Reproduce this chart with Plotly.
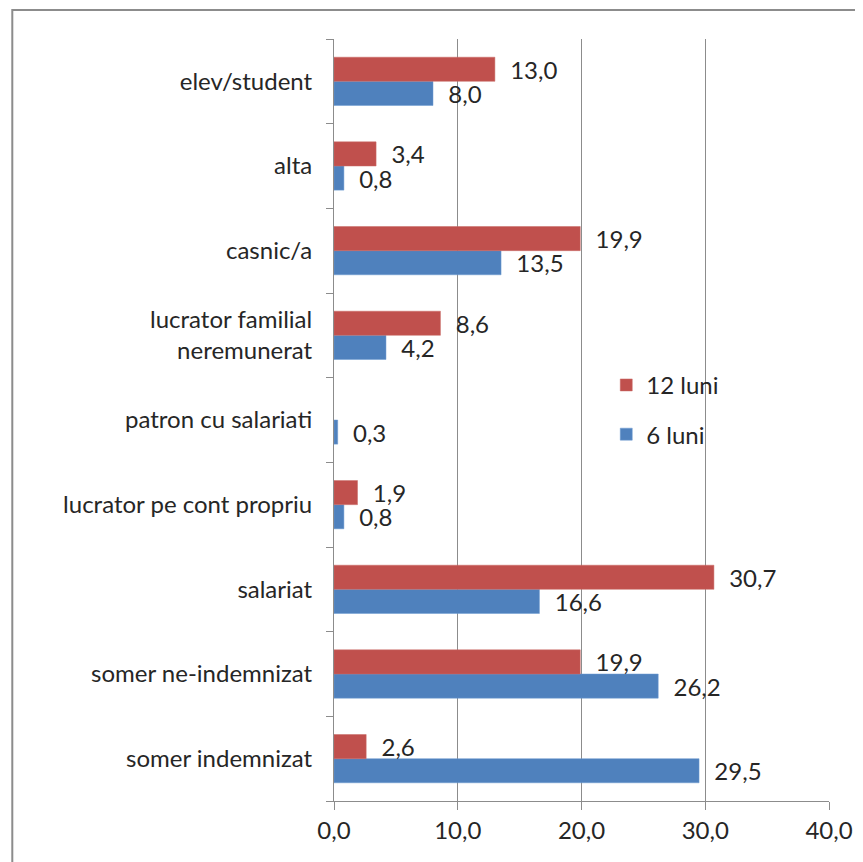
import plotly.graph_objects as go

categories = ["somer indemnizat", "somer ne-indemnizat", "salariat",
              "lucrator pe cont propriu", "patron cu salariati",
              "lucrator familial<br>neremunerat", "casnic/a", "alta", "elev/student"]
luni6 = [29.5, 26.2, 16.6, 0.8, 0.3, 4.2, 13.5, 0.8, 8.0]
luni12 = [2.6, 19.9, 30.7, 1.9, None, 8.6, 19.9, 3.4, 13.0]
x_ticks = [0, 10, 20, 30, 40]

FONT = "Lato"
FS = 24
TXT = "#262626"

fig = go.Figure()
fig.add_trace(go.Bar(
    y=categories, x=luni6, name="6 luni", orientation="h",
    marker=dict(color="#4F81BD", line=dict(color="#6C9AD0", width=0.5)),
    text=luni6, texttemplate="  %{x:.1f}", textposition="outside",
    constraintext="none",
    textfont=dict(family=FONT, size=FS, color=TXT), cliponaxis=False,
    legendgroup="a", legendrank=2,
))
fig.add_trace(go.Bar(
    y=categories, x=luni12, name="12 luni", orientation="h",
    marker=dict(color="#C0504D", line=dict(color="#C86A67", width=0.5)),
    text=luni12, texttemplate="  %{x:.1f}", textposition="outside",
    constraintext="none",
    textfont=dict(family=FONT, size=FS, color=TXT), cliponaxis=False,
    legendgroup="b", legendrank=1,
))

fig.update_layout(
    width=857, height=855,
    margin=dict(l=326, r=36, t=31, b=62),
    paper_bgcolor="white", plot_bgcolor="white",
    barmode="group", bargap=0.43, bargroupgap=0,
    separators=", ",
    font=dict(family=FONT, size=FS, color=TXT),
    showlegend=True,
    legend=dict(x=0.55, y=0.575, xanchor="left", yanchor="top",
                traceorder="grouped", tracegroupgap=15,
                bgcolor="rgba(0,0,0,0)", font=dict(family=FONT, size=FS, color=TXT),
                itemwidth=30),
    xaxis=dict(range=[0, 40], tickvals=x_ticks, tickformat=".1f",
               showgrid=True, gridcolor="#8c8c8c", gridwidth=1,
               showline=True, linecolor="#8c8c8c", linewidth=1,
               ticks="outside", ticklen=8, tickcolor="#8c8c8c",
               zeroline=False, tickfont=dict(family=FONT, size=FS, color=TXT)),
    yaxis=dict(showline=True, linecolor="#8c8c8c", linewidth=1,
               ticks="outside", ticklen=7, tickcolor="#8c8c8c",
               tickson="boundaries", ticklabelstandoff=16,
               showgrid=False, tickfont=dict(family=FONT, size=FS, color=TXT)),
    shapes=[dict(type="rect", xref="paper", yref="paper",
                 x0=(9 - 332) / 497, x1=2, y0=-1, y1=(800 - 9) / 762,
                 line=dict(color="#8c8c8c", width=2), layer="below")],
)

fig.write_html("out.html")
